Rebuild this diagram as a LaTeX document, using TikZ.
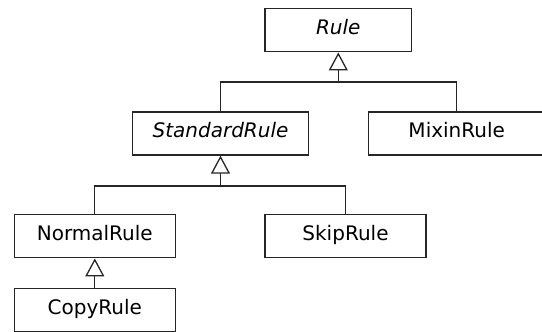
\documentclass[tikz,border=0pt]{standalone}
\usepackage{fontspec}
\setmainfont{DejaVu Sans}
\usetikzlibrary{arrows.meta, positioning}

\tikzset{
    classbox/.style={draw=black!85, line width=1.3pt, minimum height=43pt, inner sep=0pt,
        text height=14pt, text depth=6pt, font=\fontsize{20}{23}\selectfont},
    link/.style={draw=black!85, line width=1.3pt},
    inherit/.style={link, -{Triangle[open, length=18pt, width=19pt]}}
}

\begin{document}
\begin{tikzpicture}[x=1pt, y=-1pt]
        \useasboundingbox (0,0) rectangle (542,332);
        \node[classbox, minimum width=146.5pt] (rule) at (338.3,30.3) {\textit{Rule}};
        \node[classbox, minimum width=175.6pt] (std) at (220.5,133.5) {\textit{StandardRule}};
        \node[classbox, minimum width=177pt] (mixin) at (456.7,133.5) {MixinRule};
        \node[classbox, minimum width=161pt] (normal) at (94.8,236.3) {NormalRule};
        \node[classbox, minimum width=161pt] (skip) at (345.5,236.3) {SkipRule};
        \node[classbox, minimum width=161pt] (copy) at (94.8,310) {CopyRule};
        \coordinate (bus1) at (338.3,82);
        \coordinate (bus2) at (220.5,186);
        \draw[link] (std.north) |- (mixin.north |- bus1) -- (mixin.north);
        \draw[inherit] (rule.south |- bus1) -- (rule.south);
        \draw[link] (normal.north) |- (skip.north |- bus2) -- (skip.north);
        \draw[inherit] (std.south |- bus2) -- (std.south);
        \draw[inherit] (copy.north) -- (normal.south);
    \end{tikzpicture}
\end{document}
